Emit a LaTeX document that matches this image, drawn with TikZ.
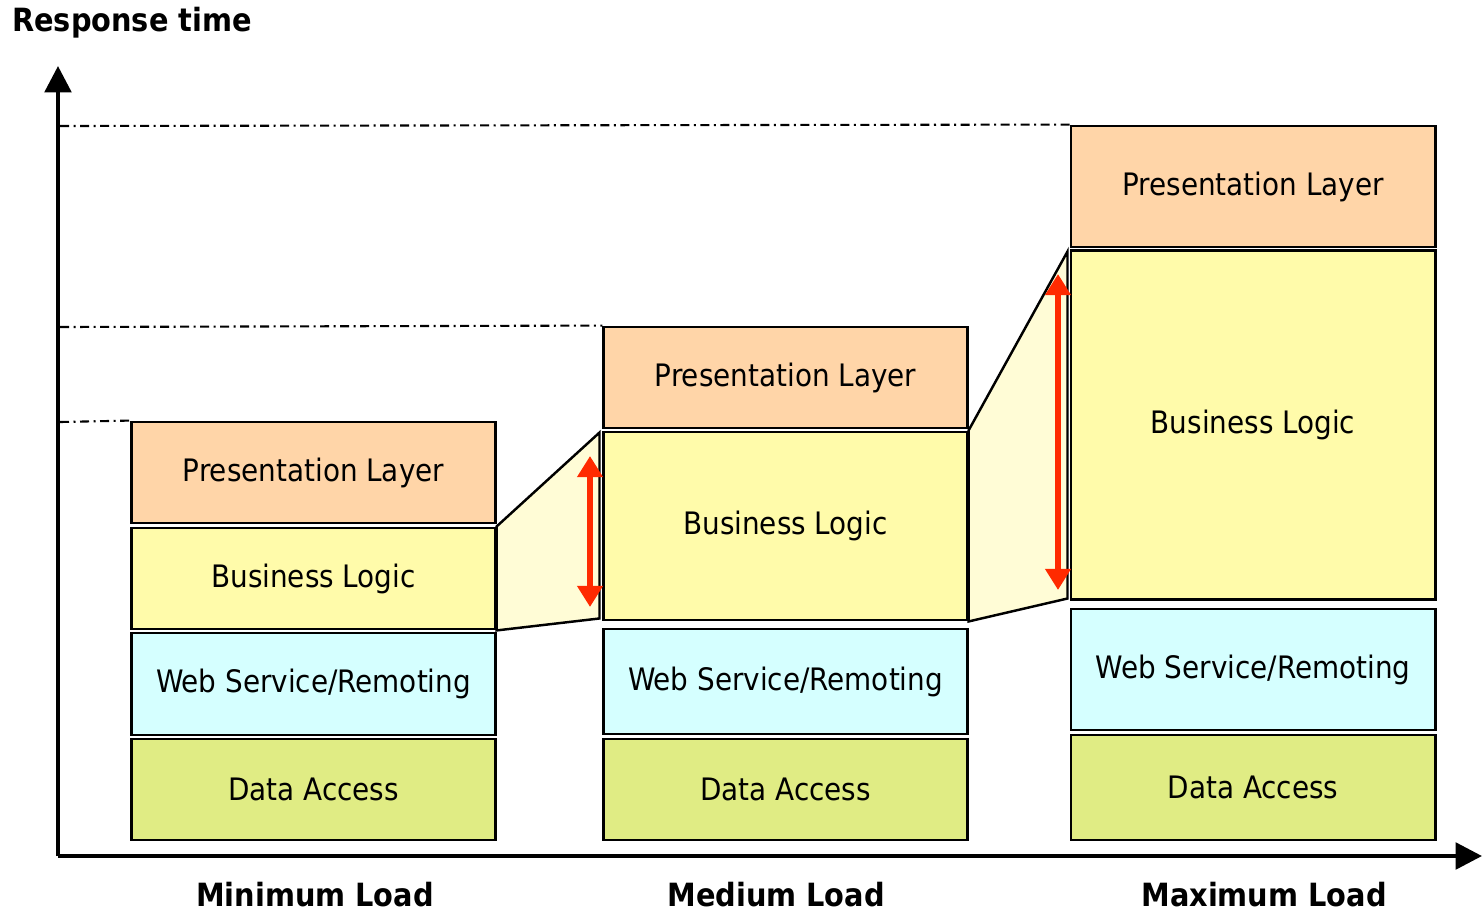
\documentclass[tikz,border=0pt]{standalone}
\usepackage{fontspec}
\setmainfont{DejaVu Sans Condensed}
\usepackage{tikz}
\usetikzlibrary{calc}
\usetikzlibrary{arrows.meta}

\definecolor{presc}{HTML}{FFD5A8}
\definecolor{busc}{HTML}{FFFBAA}
\definecolor{webc}{HTML}{D5FFFF}
\definecolor{datac}{HTML}{E0EC84}
\definecolor{wedgec}{HTML}{FFFCD6}
\definecolor{growc}{HTML}{FF2A00}

\begin{document}
\begin{tikzpicture}[x=0.01cm,y=-0.01cm]
      \tikzset{mylayer/.style={draw=black,line width=0.8pt,minimum width=3.63cm,inner sep=0pt,font=\fontsize{8.8}{10}\selectfont}}
      \tikzset{mylevel/.style={draw=black,line width=0.6pt,dash pattern=on 0.09cm off 0.045cm on 0.02cm off 0.045cm}}
      \tikzset{mygrow/.style={draw=growc,line width=1.5pt,{Triangle[width=7pt,length=6pt]}-{Triangle[width=7pt,length=6pt]}}}
      \tikzset{mytitle/.style={font=\bfseries\fontsize{9.1}{11}\selectfont}}
      \def\axhead{Triangle[width=7.5pt,length=7.5pt]}
      \useasboundingbox (0,0) rectangle (1482,912);
      \coordinate (O) at (58,856);
      \coordinate (Ytop) at (58,66);
      \coordinate (Xend) at (1482,856);
      \coordinate (L1) at (60,422);
      \coordinate (L2) at (60,327);
      \coordinate (L3) at (60,126);

% minimum load
\node[mylayer,fill=presc,minimum height=1.01cm] (P1) at (313.5,472.5) {Presentation Layer};
\node[mylayer,fill=busc,minimum height=1.01cm] (B1) at (313.5,578.5) {Business Logic};
\node[mylayer,fill=webc,minimum height=1.02cm] (W1) at (313.5,684) {Web Service/Remoting};
\node[mylayer,fill=datac,minimum height=1.01cm] (D1) at (313.5,789.5) {Data Access};
% medium load
\node[mylayer,fill=presc,minimum height=1.01cm] (P2) at (785.5,377.5) {Presentation Layer};
\node[mylayer,fill=busc,minimum height=1.88cm] (B2) at (785.5,526) {Business Logic};
\node[mylayer,fill=webc,minimum height=1.05cm] (W2) at (785.5,681.5) {Web Service/Remoting};
\node[mylayer,fill=datac,minimum height=1.01cm] (D2) at (785.5,789.5) {Data Access};
% maximum load
\node[mylayer,fill=presc,minimum height=1.21cm,minimum width=3.64cm] (P3) at (1253,186.5) {Presentation Layer};
\node[mylayer,fill=busc,minimum height=3.48cm,minimum width=3.64cm] (B3) at (1253,425) {Business Logic};
\node[mylayer,fill=webc,minimum height=1.21cm,minimum width=3.64cm] (W3) at (1253,669.5) {Web Service/Remoting};
\node[mylayer,fill=datac,minimum height=1.05cm,minimum width=3.64cm] (D3) at (1253,787.5) {Data Access};

% growth of the business logic
\draw[fill=wedgec,line width=0.7pt] (B1.north east) -- ($(B2.north west)+(-3,2)$) -- ($(B2.south west)+(-3,-3)$) -- (B1.south east) -- cycle;
\draw[fill=wedgec,line width=0.7pt] (B2.north east) -- ($(B3.north west)+(-2,2)$) -- ($(B3.south west)+(-2,-2)$) -- (B2.south east) -- cycle;
\coordinate (G1a) at (590,456);
\coordinate (G1b) at (590,607);
\coordinate (G2a) at (1058,274);
\coordinate (G2b) at (1058,590);
\draw[mygrow] (G1a) -- (G1b);
\draw[mygrow] (G2a) -- (G2b);

% levels
\draw[mylevel] (L1) -- (P1.north west);
\draw[mylevel] (L2) -- (P2.north west);
\draw[mylevel] (L3) -- (P3.north west);

% axes
\draw[line width=1.2pt,-{\axhead}] (O) -- (Ytop);
\draw[line width=1.2pt,-{\axhead}] (O) -- (Xend);
\node[mytitle] (ytitle) at (132,23) {Response time};
\node[mytitle] (x1) at (315,895) {Minimum Load};
\node[mytitle] (x2) at (776,895) {Medium Load};
\node[mytitle] (x3) at (1264,895) {Maximum Load};
    \end{tikzpicture}
\end{document}
